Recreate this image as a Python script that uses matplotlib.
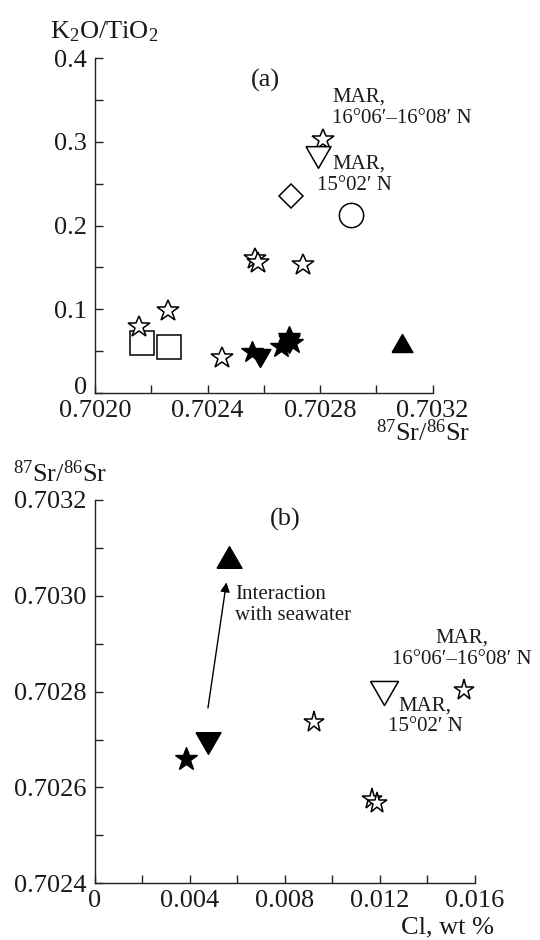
import matplotlib
matplotlib.use('Agg')
import matplotlib.pyplot as plt
from matplotlib.ticker import MultipleLocator, FormatStrFormatter
from matplotlib.transforms import ScaledTranslation

# ── 字体 ──────────────────────────────────────────────
plt.rcParams['font.family'] = ['Liberation Serif', 'DejaVu Serif']
plt.rcParams['mathtext.fontset'] = 'custom'
plt.rcParams['mathtext.rm'] = 'Liberation Serif'
plt.rcParams['mathtext.it'] = 'Liberation Serif:italic'
TXT = '#1a1a1a'

# ── 数据：(a) K2O/TiO2 vs 87Sr/86Sr ───────────────────
a_open_star_x = [0.702809, 0.702570, 0.702580, 0.702740, 0.702261, 0.702158, 0.702452]
a_open_star_y = [0.302, 0.160, 0.155, 0.153, 0.098, 0.079, 0.041]
a_open_vtri_x = [0.702794]
a_open_vtri_y = [0.282]
a_diamond_x = [0.702697]
a_diamond_y = [0.235]
a_circle_x = [0.702910]
a_circle_y = [0.2125]
a_square_x = [0.702168, 0.702264]
a_square_y = [0.0595, 0.055]
a_fill_star_x = [0.702557, 0.702660, 0.702688, 0.702700]
a_fill_star_y = [0.049, 0.055, 0.067, 0.060]
a_fill_vtri_x = [0.702588, 0.702690]
a_fill_vtri_y = [0.042, 0.058]
a_fill_tri_x = [0.703090]
a_fill_tri_y = [0.059]

# ── 数据：(b) 87Sr/86Sr vs Cl ─────────────────────────
b_open_star_x = [0.00923, 0.01555, 0.01168, 0.01188]
b_open_star_y = [0.702737, 0.702804, 0.702575, 0.702567]
b_open_vtri_x = [0.01218]
b_open_vtri_y = [0.702797]
b_fill_star_x = [0.00385]
b_fill_star_y = [0.702660]
b_fill_vtri_x = [0.00476]
b_fill_vtri_y = [0.702692]
b_fill_tri_x = [0.00565]
b_fill_tri_y = [0.703081]

# 等边三角形（宽 > 高），首尾闭合
VTRI = [(-1, 0.866), (1, 0.866), (0, -0.866), (-1, 0.866)]
UTRI = [(-1, -0.866), (1, -0.866), (0, 0.866), (-1, -0.866)]

TICK_FS = 19


def style_axes(ax):
    for s in ['top', 'right']:
        ax.spines[s].set_visible(False)
    for s in ['left', 'bottom']:
        ax.spines[s].set_linewidth(1.0)
        ax.spines[s].set_color('#222222')
    ax.tick_params(which='both', direction='in', length=6, width=1.0,
                   colors='#222222', labelcolor=TXT, labelsize=TICK_FS)
    ax.tick_params(axis='x', which='both', pad=5)
    ax.tick_params(axis='y', which='both', pad=6)


fig = plt.figure(figsize=(5.4, 9.4), dpi=100)

# ─────────────────────────────────────────────────────
# (a)
# ─────────────────────────────────────────────────────
ax1 = fig.add_axes([0.1759, 0.5822, 0.6254, 0.3557])
style_axes(ax1)
ax1.set_xlim(0.7020, 0.7032)
ax1.set_ylim(0, 0.4)
ax1.xaxis.set_major_locator(MultipleLocator(0.0004))
ax1.xaxis.set_minor_locator(MultipleLocator(0.0002))
ax1.yaxis.set_minor_locator(MultipleLocator(0.05))
ax1.xaxis.set_major_formatter(FormatStrFormatter('%.4f'))
ax1.set_yticks([0, 0.1, 0.2, 0.3, 0.4])
ax1.set_yticklabels(['0', '0.1', '0.2', '0.3', '0.4'])
# "0" 稍微上移，与 x 轴标签分开
lab0 = ax1.get_yticklabels()[0]
lab0.set_transform(lab0.get_transform() + ScaledTranslation(0, 5 / 72, fig.dpi_scale_trans))

kw_open = dict(ls='none', mfc='white', mec='black', mew=1.1, clip_on=False)
kw_fill = dict(ls='none', mfc='black', mec='black', mew=1.0, clip_on=False)
ax1.plot(a_square_x, a_square_y, marker='s', ms=17, **kw_open)
ax1.plot(a_open_star_x, a_open_star_y, marker='*', ms=16.5, **kw_open)
ax1.plot(a_open_vtri_x, a_open_vtri_y, marker=VTRI, ms=18, **kw_open)
ax1.plot(a_diamond_x, a_diamond_y, marker='D', ms=12, **kw_open)
ax1.plot(a_circle_x, a_circle_y, marker='o', ms=17.5, **kw_open)
ax1.plot(a_fill_star_x, a_fill_star_y, marker='*', ms=16.5, **kw_fill)
ax1.plot(a_fill_vtri_x, a_fill_vtri_y, marker=VTRI, ms=15, **kw_fill)
ax1.plot(a_fill_tri_x, a_fill_tri_y, marker=UTRI, ms=15, **kw_fill)

fs = 15
ax1.text(0.702605, 0.374, '(a)', fontsize=19, ha='center', va='center', color=TXT)
ax1.text(0.702842, 0.354, 'MAR,', fontsize=fs, ha='left', va='center', color=TXT)
ax1.text(0.702842, 0.328, '16°06′–16°08′ N', fontsize=fs, ha='left', va='center', color=TXT)
ax1.text(0.702842, 0.274, 'MAR,', fontsize=fs, ha='left', va='center', color=TXT)
ax1.text(0.702788, 0.248, '15°02′ N', fontsize=fs, ha='left', va='center', color=TXT)

ax1.text(-0.133, 1.079, 'K$_2$O/TiO$_2$', transform=ax1.transAxes,
         fontsize=19, ha='left', va='center', color=TXT)
ax1.text(1.112, -0.120, '$^{87}$Sr/$^{86}$Sr', transform=ax1.transAxes,
         fontsize=19, ha='right', va='center', color=TXT)

# ─────────────────────────────────────────────────────
# (b)
# ─────────────────────────────────────────────────────
ax2 = fig.add_axes([0.1759, 0.0603, 0.7037, 0.4078])
style_axes(ax2)
ax2.set_xlim(0, 0.016)
ax2.set_ylim(0.7024, 0.7032)
ax2.xaxis.set_minor_locator(MultipleLocator(0.002))
ax2.yaxis.set_major_locator(MultipleLocator(0.0002))
ax2.yaxis.set_minor_locator(MultipleLocator(0.0001))
ax2.set_xticks([0, 0.004, 0.008, 0.012, 0.016])
ax2.set_xticklabels(['0', '0.004', '0.008', '0.012', '0.016'])
ax2.yaxis.set_major_formatter(FormatStrFormatter('%.4f'))

ax2.plot(b_open_star_x, b_open_star_y, marker='*', ms=15.5, **kw_open)
ax2.plot(b_open_vtri_x, b_open_vtri_y, marker=VTRI, ms=20, **kw_open)
ax2.plot(b_fill_star_x, b_fill_star_y, marker='*', ms=17, **kw_fill)
ax2.plot(b_fill_vtri_x, b_fill_vtri_y, marker=VTRI, ms=18, **kw_fill)
ax2.plot(b_fill_tri_x, b_fill_tri_y, marker=UTRI, ms=18, **kw_fill)

# 箭头：与海水相互作用
ax2.annotate('', xy=(0.005535, 0.703028), xytext=(0.004757, 0.702766),
             arrowprops=dict(arrowstyle='-|>', color='black', lw=1.0,
                             mutation_scale=14, shrinkA=0, shrinkB=0))
ax2.text(0.0059, 0.703002, 'Interaction', fontsize=fs, ha='left', va='center', color=TXT)
ax2.text(0.0059, 0.702959, 'with seawater', fontsize=fs, ha='left', va='center', color=TXT)

ax2.text(0.5, 0.948, '(b)', transform=ax2.transAxes,
         fontsize=19, ha='center', va='center', color=TXT)
ax2.text(0.966, 0.640, 'MAR,', transform=ax2.transAxes,
         fontsize=fs, ha='center', va='center', color=TXT)
ax2.text(0.966, 0.583, '16°06′–16°08′ N', transform=ax2.transAxes,
         fontsize=fs, ha='center', va='center', color=TXT)
ax2.text(0.799, 0.462, 'MAR,', transform=ax2.transAxes,
         fontsize=fs, ha='left', va='center', color=TXT)
ax2.text(0.772, 0.410, '15°02′ N', transform=ax2.transAxes,
         fontsize=fs, ha='left', va='center', color=TXT)

ax2.text(-0.216, 1.069, '$^{87}$Sr/$^{86}$Sr', transform=ax2.transAxes,
         fontsize=19, ha='left', va='center', color=TXT)
ax2.text(1.051, -0.115, 'Cl, wt %', transform=ax2.transAxes,
         fontsize=19, ha='right', va='center', color=TXT)

fig.savefig('out.png', dpi=100, facecolor='white')
